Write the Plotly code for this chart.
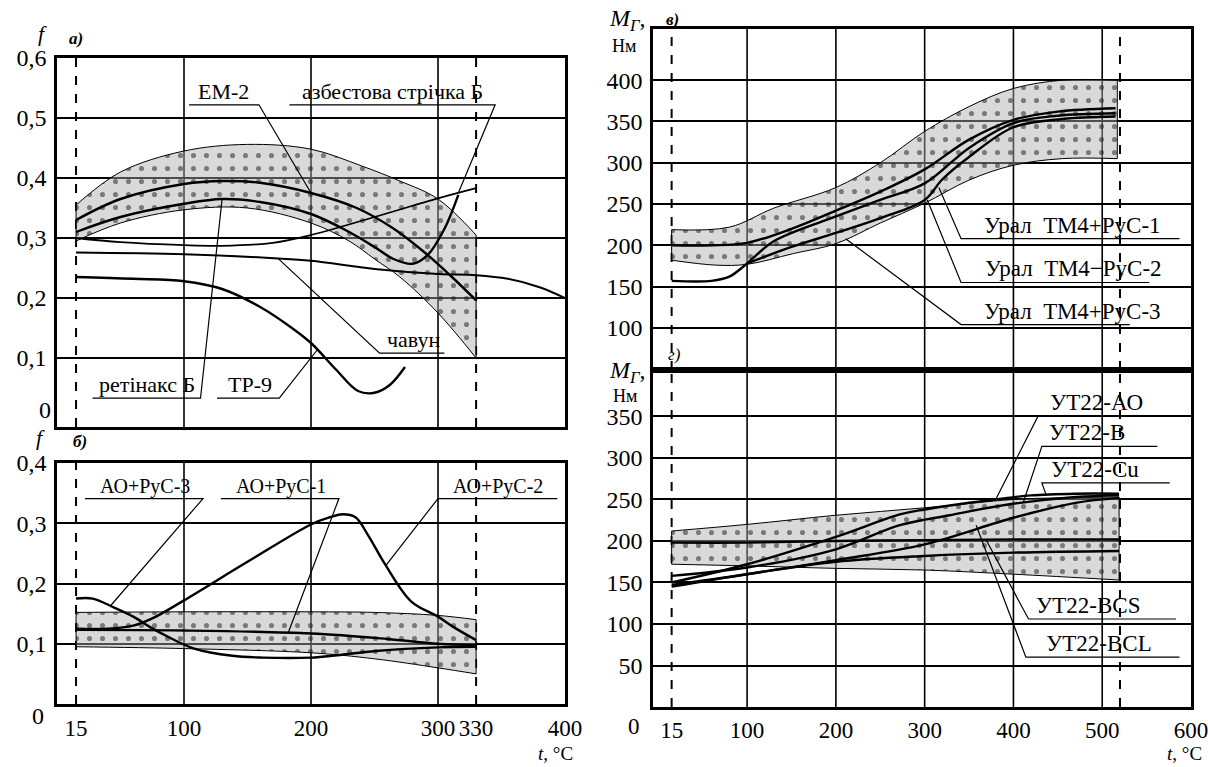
import numpy as np
import plotly.graph_objects as go

W, H = 1208, 767
SERIF = "Liberation Serif"


def px(x):
    return x / W


def py(y):
    return 1 - y / H


# ---------------- panel а): f vs t ----------------
a_band_up_t = [15, 50, 100, 150, 200, 240, 270, 300, 330]
a_band_up_f = [0.355, 0.41, 0.445, 0.456, 0.448, 0.42, 0.395, 0.365, 0.305]
a_band_lo_t = [15, 50, 100, 150, 200, 230, 250, 270, 300, 330]
a_band_lo_f = [0.295, 0.325, 0.347, 0.35, 0.325, 0.295, 0.265, 0.235, 0.175, 0.10]
a_em2_t = [15, 50, 100, 130, 160, 200, 236, 264, 290, 311, 330]
a_em2_f = [0.33, 0.365, 0.39, 0.395, 0.392, 0.375, 0.35, 0.317, 0.275, 0.235, 0.196]
a_retinax_t = [15, 50, 100, 130, 160, 200, 230, 250, 265, 280, 292, 305, 316]
a_retinax_f = [0.31, 0.335, 0.357, 0.365, 0.36, 0.34, 0.31, 0.285, 0.265, 0.257, 0.272, 0.315, 0.372]
a_asbest_t = [15, 50, 100, 130, 170, 200, 250, 300, 330]
a_asbest_f = [0.30, 0.293, 0.288, 0.287, 0.292, 0.305, 0.335, 0.366, 0.383]
a_chavun_t = [15, 100, 174, 200, 252, 300, 330, 355, 380, 400]
a_chavun_f = [0.276, 0.273, 0.266, 0.262, 0.248, 0.24, 0.238, 0.232, 0.218, 0.2]
a_tr9_t = [15, 60, 100, 130, 160, 185, 200, 220, 237, 250, 262, 274]
a_tr9_f = [0.235, 0.232, 0.228, 0.215, 0.185, 0.15, 0.125, 0.08, 0.045, 0.042, 0.055, 0.085]

# ---------------- panel б): f vs t ----------------
b_band_up_t = [15, 100, 200, 250, 300, 330]
b_band_up_f = [0.152, 0.153, 0.153, 0.152, 0.147, 0.14]
b_band_lo_t = [15, 100, 200, 250, 300, 330]
b_band_lo_f = [0.095, 0.092, 0.085, 0.075, 0.06, 0.05]
b_ao3_t = [15, 28, 45, 60, 73, 87, 108, 138, 162, 200, 221, 251, 300, 330]
b_ao3_f = [0.175, 0.175, 0.16, 0.145, 0.128, 0.112, 0.092, 0.08, 0.077, 0.077, 0.081, 0.088, 0.094, 0.095]
b_ao1_t = [15, 100, 200, 260, 300, 330]
b_ao1_f = [0.123, 0.122, 0.117, 0.108, 0.1, 0.098]
b_ao2_t = [15, 40, 60, 75, 100, 150, 200, 215, 225, 235, 245, 258, 279, 300, 312, 330]
b_ao2_f = [0.125, 0.125, 0.13, 0.142, 0.172, 0.236, 0.298, 0.31, 0.315, 0.31, 0.28, 0.233, 0.17, 0.145, 0.128, 0.106]

# ---------------- panel в): M vs t ----------------
v_band_up_t = [15, 80, 130, 200, 250, 300, 350, 400, 455, 517]
v_band_up_m = [219, 222, 245, 270, 300, 338, 368, 390, 400, 400]
v_band_lo_t = [15, 65, 100, 152, 200, 250, 300, 350, 400, 455, 517]
v_band_lo_m = [182, 176, 177, 190, 202, 227, 251, 279, 297, 305, 305]
v_rus1_t = [15, 60, 100, 150, 200, 250, 300, 350, 400, 450, 515]
v_rus1_m = [200, 200, 203, 220, 242, 265, 292, 328, 352, 362, 366]
v_rus2_t = [15, 60, 80, 100, 130, 200, 250, 300, 350, 400, 450, 515]
v_rus2_m = [157, 157, 162, 178, 205, 235, 255, 275, 318, 348, 357, 360]
v_rus3_t = [100, 150, 200, 250, 300, 320, 350, 400, 455, 515]
v_rus3_m = [178, 198, 215, 233, 255, 280, 307, 343, 353, 356]

# ---------------- panel г): M vs t ----------------
g_band_up_t = [15, 100, 200, 300, 400, 450, 519]
g_band_up_m = [212, 220, 231, 240, 250, 252, 253]
g_band_lo_t = [15, 100, 200, 300, 400, 519]
g_band_lo_m = [172, 170, 167, 165, 160, 153]
g_ao_t = [15, 100, 200, 272, 300, 350, 380, 420, 470, 519]
g_ao_m = [150, 172, 205, 232, 238, 246, 250, 255, 257, 257]
g_b_t = [15, 100, 200, 272, 328, 394, 470, 519]
g_b_m = [158, 168, 190, 219, 231, 244, 253, 255]
g_cu_t = [15, 100, 200, 300, 400, 470, 519]
g_cu_m = [147, 160, 177, 196, 228, 246, 252]
g_bcs_t = [15, 100, 200, 300, 400, 519]
g_bcs_m = [198, 198, 200, 201, 202, 202]
g_bcl_t = [15, 100, 200, 300, 400, 519]
g_bcl_m = [145, 160, 175, 182, 186, 188]

# tick labels
ab_x_ticks = [15, 100, 200, 300, 330, 400]
a_y_ticks = [0.1, 0.2, 0.3, 0.4, 0.5, 0.6]
a_y_text = ["0,1", "0,2", "0,3", "0,4", "0,5", "0,6"]
b_y_ticks = [0.1, 0.2, 0.3, 0.4]
b_y_text = ["0,1", "0,2", "0,3", "0,4"]
vg_x_ticks = [15, 100, 200, 300, 400, 500, 600]
v_y_ticks = [100, 150, 200, 250, 300, 350, 400]
g_y_ticks = [50, 100, 150, 200, 250, 300, 350]

AX = {"a": ("x", "y"), "b": ("x2", "y2"), "v": ("x3", "y3"), "g": ("x4", "y4")}

fig = go.Figure()


def add_band(p, t_up, v_up, t_lo, v_lo):
    xa, ya = AX[p]
    fig.add_trace(go.Scatter(x=t_lo, y=v_lo, xaxis=xa, yaxis=ya, mode="lines",
                             line=dict(color="black", width=1, shape="spline"),
                             hoverinfo="skip", showlegend=False))
    fig.add_trace(go.Scatter(x=t_up, y=v_up, xaxis=xa, yaxis=ya, mode="lines",
                             fill="tonexty", fillcolor="rgba(170,170,170,0.45)",
                             fillpattern=dict(shape=".", fgcolor="#1a1a1a",
                                              bgcolor="rgba(170,170,170,0.45)",
                                              size=13, solidity=0.12),
                             line=dict(color="black", width=1, shape="spline"),
                             hoverinfo="skip", showlegend=False))
    for i in (0, -1):
        fig.add_trace(go.Scatter(x=[t_up[i], t_lo[i]], y=[v_up[i], v_lo[i]],
                                 xaxis=xa, yaxis=ya, mode="lines",
                                 line=dict(color="black", width=1),
                                 hoverinfo="skip", showlegend=False))


def add_curve(p, t, v, name, w=2.4):
    xa, ya = AX[p]
    fig.add_trace(go.Scatter(x=t, y=v, xaxis=xa, yaxis=ya, mode="lines", name=name,
                             line=dict(color="black", width=w, shape="spline", smoothing=1.0),
                             showlegend=False))


def callout(p, text, cx, uy, u0, u1, ex, ey, size):
    xa, ya = AX[p]
    fig.add_annotation(x=cx, y=uy, xref=xa, yref=ya, text=text, showarrow=False,
                       yanchor="bottom", yshift=-1,
                       font=dict(family=SERIF, size=size, color="black"))
    fig.add_shape(type="path", xref=xa, yref=ya,
                  path=f"M {ex},{ey} L {u0},{uy} L {u1},{uy}",
                  line=dict(color="black", width=1.2))


# ---- panel а)
add_band("a", a_band_up_t, a_band_up_f, a_band_lo_t, a_band_lo_f)
add_curve("a", a_em2_t, a_em2_f, "ЕМ-2")
add_curve("a", a_retinax_t, a_retinax_f, "ретінакс Б")
add_curve("a", a_asbest_t, a_asbest_f, "азбестова стрічка Б", 1.8)
add_curve("a", a_chavun_t, a_chavun_f, "чавун", 2.0)
add_curve("a", a_tr9_t, a_tr9_f, "ТР-9")

callout("a", "ЕМ-2", 131, 0.522, 159, 104, 200, float(np.interp(200, a_em2_t, a_em2_f)), 22)
callout("a", "азбестова стрічка Б", 264, 0.522, 345, 183, 316,
        float(np.interp(316, a_asbest_t, a_asbest_f)), 22)
callout("a", "чавун", 281, 0.108, 254, 305, 174, float(np.interp(174, a_chavun_t, a_chavun_f)), 22)
callout("a", "ретінакс Б", 71, 0.033, 113, 28, 130, float(np.interp(130, a_retinax_t, a_retinax_f)), 22)
callout("a", "ТР-9", 152, 0.033, 175, 126, 205, float(np.interp(205, a_tr9_t, a_tr9_f)), 22)

# ---- panel б)
add_band("b", b_band_up_t, b_band_up_f, b_band_lo_t, b_band_lo_f)
add_curve("b", b_ao3_t, b_ao3_f, "АО+РуС-3")
add_curve("b", b_ao1_t, b_ao1_f, "АО+РуС-1")
add_curve("b", b_ao2_t, b_ao2_f, "АО+РуС-2")

callout("b", "АО+РуС-3", 69, 0.341, 115, 22, 42, float(np.interp(42, b_ao3_t, b_ao3_f)), 20)
callout("b", "АО+РуС-1", 176, 0.341, 222, 129, 182, float(np.interp(182, b_ao1_t, b_ao1_f)), 20)
callout("b", "АО+РуС-2", 347, 0.341, 300, 394, 259, float(np.interp(259, b_ao2_t, b_ao2_f)), 20)

# ---- panel в)
add_band("v", v_band_up_t, v_band_up_m, v_band_lo_t, v_band_lo_m)
add_curve("v", v_rus1_t, v_rus1_m, "Урал ТМ4+РуС-1")
add_curve("v", v_rus2_t, v_rus2_m, "Урал ТМ4−РуС-2")
add_curve("v", v_rus3_t, v_rus3_m, "Урал ТМ4+РуС-3")

callout("v", "Урал  ТМ4+РуС-1", 466, 208, 341, 587, 316, 270, 23)
callout("v", "Урал  ТМ4−РуС-2", 468, 155, 341, 553, 303, 255, 23)
callout("v", "Урал  ТМ4+РуС-3", 466, 104, 341, 531, 211, 208, 23)

# ---- panel г)
add_band("g", g_band_up_t, g_band_up_m, g_band_lo_t, g_band_lo_m)
add_curve("g", g_ao_t, g_ao_m, "УТ22-АО")
add_curve("g", g_b_t, g_b_m, "УТ22-В")
add_curve("g", g_cu_t, g_cu_m, "УТ22-Cu")
add_curve("g", g_bcs_t, g_bcs_m, "УТ22-BCS")
add_curve("g", g_bcl_t, g_bcl_m, "УТ22-BCL")

callout("g", "УТ22-АО", 494, 351, 428, 587, 380, float(np.interp(380, g_ao_t, g_ao_m)), 23)
callout("g", "УТ22-В", 483, 314, 432, 562, 411, float(np.interp(411, g_b_t, g_b_m)), 23)
callout("g", "УТ22-Cu", 492, 270, 432, 576, 437, 255, 23)
callout("g", "УТ22-BCS", 484, 106, 417, 583, 369, float(np.interp(369, g_bcs_t, g_bcs_m)), 23)
callout("g", "УТ22-BCL", 496, 60, 414, 587, 358, 219, 23)

# ---- vertical grid lines and dashed limit lines
for p, grid, dashed in (("a", [100, 200, 300], [15, 330]),
                        ("b", [100, 200, 300], [15, 330]),
                        ("v", [100, 200, 300, 400, 500], [15, 520]),
                        ("g", [100, 200, 300, 400, 500], [15, 520])):
    xa, ya = AX[p]
    for t in grid:
        fig.add_shape(type="line", xref=xa, yref=ya + " domain", x0=t, x1=t, y0=0, y1=1,
                      line=dict(color="black", width=1.6), layer="below")
    for t in dashed:
        fig.add_shape(type="line", xref=xa, yref=ya + " domain", x0=t, x1=t, y0=0, y1=1,
                      line=dict(color="black", width=2, dash="dash"), layer="below")

tickfont = dict(family=SERIF, size=24, color="black")
base = dict(showline=True, linecolor="black", linewidth=2.6, mirror=True, zeroline=False,
            ticks="", tickfont=tickfont, gridcolor="black", gridwidth=1.6, automargin=False,
            ticklabeloverflow="allow")

ab_dom = [px(57), px(565)]
vg_dom = [px(653), px(1191)]

fig.update_layout(
    width=W, height=H, margin=dict(l=0, r=0, t=0, b=0, pad=0, autoexpand=False),
    paper_bgcolor="white", plot_bgcolor="white", showlegend=False,
    xaxis=dict(base, domain=ab_dom, range=[0, 400], anchor="y", showgrid=False,
               showticklabels=False),
    yaxis=dict(base, domain=[py(427), py(58)], range=[-0.015, 0.6], anchor="x",
               tickvals=a_y_ticks, ticktext=a_y_text, showgrid=True, ticklabelstandoff=3),
    xaxis2=dict(base, domain=ab_dom, range=[0, 400], anchor="y2", showgrid=False,
                tickvals=ab_x_ticks, ticktext=[str(v) for v in ab_x_ticks],
                tickfont=dict(family=SERIF, size=23, color="black"),
                tickangle=0, ticklabelstandoff=2),
    yaxis2=dict(base, domain=[py(704), py(463)], range=[0, 0.4], anchor="x2",
                tickvals=b_y_ticks, ticktext=b_y_text, showgrid=True, ticklabelstandoff=3),
    xaxis3=dict(base, domain=vg_dom, range=[-6, 600], anchor="y3", showgrid=False,
                showticklabels=False),
    yaxis3=dict(base, domain=[py(370), py(29)], range=[49, 462], anchor="x3",
                tickvals=v_y_ticks, ticktext=[str(v) for v in v_y_ticks], showgrid=True,
                ticklabelstandoff=3),
    xaxis4=dict(base, domain=vg_dom, range=[-6, 600], anchor="y4", showgrid=False,
                tickvals=vg_x_ticks, ticktext=[str(v) for v in vg_x_ticks],
                tickfont=dict(family=SERIF, size=23, color="black"),
                tickangle=0, ticklabelstandoff=1),
    yaxis4=dict(base, domain=[py(707), py(370)], range=[0, 406], anchor="x4",
                tickvals=g_y_ticks, ticktext=[str(v) for v in g_y_ticks], showgrid=True,
                ticklabelstandoff=3),
)


def ptext(x, y, text, size, xanchor="center", yanchor="middle"):
    fig.add_annotation(x=px(x), y=py(y), xref="paper", yref="paper", text=text,
                       showarrow=False, xanchor=xanchor, yanchor=yanchor,
                       font=dict(family=SERIF, size=size, color="black"))


# axis titles / panel letters
ptext(42, 33, "<i>f</i>", 22)
ptext(76, 38, "<b><i>а)</i></b>", 17)
ptext(40, 437, "<i>f</i>", 22)
ptext(80, 441, "<b><i>б)</i></b>", 17)
ptext(627, 20, "<i>M</i><sub><i>Г</i></sub>,", 24)
ptext(672, 20, "<b><i>в)</i></b>", 17)
ptext(624, 46, "Нм", 18)
ptext(674, 354, "<i>г)</i>", 17)
ptext(627, 372, "<i>M</i><sub><i>Г</i></sub>,", 24)
ptext(625, 396, "Нм", 18)
# zero labels at corners
fig.add_annotation(x=0, y=0, xref="x domain", yref="y", text="0", showarrow=False,
                   xanchor="right", xshift=-4, yshift=8, font=tickfont)
ptext(38, 716, "0", 24)
ptext(634, 726, "0", 23)
# t axis titles
ptext(575, 766, "<i>t</i>, °C", 19, xanchor="right", yanchor="bottom")
ptext(1204, 766, "<i>t</i>, °C", 19, xanchor="right", yanchor="bottom")

post = ("document.body.style.margin='0';document.body.style.padding='0';"
        "document.body.style.overflow='hidden';"
        "var d=document.getElementById('{plot_id}');"
        "d.style.position='fixed';d.style.left='0px';d.style.top='0px';")
fig.write_html("out.html", post_script=post, config={"displayModeBar": False})
